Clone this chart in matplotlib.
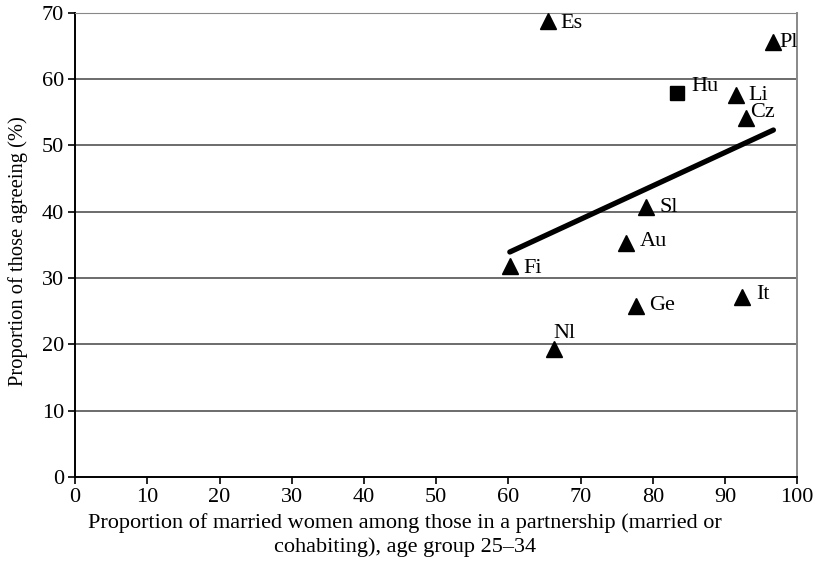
import matplotlib

matplotlib.use("Agg")
import matplotlib.pyplot as plt
import numpy as np

plt.rcParams["font.family"] = ["Liberation Serif", "DejaVu Serif"]

countries = ["Es", "Pl", "Hu", "Li", "Cz", "Sl", "Au", "Fi", "Ge", "It", "Nl"]
married_share = [65.5, 96.7, 83.4, 91.5, 92.9, 79.0, 76.3, 60.2, 77.7, 92.4, 66.3]
agreeing = [68.8, 65.6, 57.9, 57.6, 54.1, 40.7, 35.3, 31.8, 25.8, 27.1, 19.3]
markers = ["^", "^", "s", "^", "^", "^", "^", "^", "^", "^", "^"]

# label offsets in points (dx, dy) per country
label_offsets = {
    "Es": (9, -2), "Pl": (4, 0), "Hu": (10, 5), "Li": (9, 0), "Cz": (3, 4),
    "Sl": (10, 0), "Au": (10, 1), "Fi": (10, -2), "Ge": (9, 0), "It": (10, 2),
    "Nl": (0, 4),
}

fig = plt.figure(figsize=(8.16, 5.63), dpi=100)
ax = fig.add_axes([0.092, 0.153, 0.885, 0.824])

for y in range(10, 71, 10):
    ax.axhline(y, color="#444444", linewidth=1.1, zorder=1)

x = np.array(married_share)
y = np.array(agreeing)
slope, intercept = np.polyfit(x, y, 1)
xs = np.array([x.min(), x.max()])
ax.plot(xs, slope * xs + intercept, color="black", linewidth=3.8,
        solid_capstyle="round", zorder=3)

for name, mx, my, mk in zip(countries, married_share, agreeing, markers):
    size = 10.5 if mk == "s" else 11
    ax.plot(mx, my, marker=mk, color="black", markersize=size,
            linestyle="none", zorder=4)
    dx, dy = label_offsets[name]
    ax.annotate(name, (mx, my), xytext=(dx, dy), textcoords="offset points",
                ha="left", va="center" if name != "Nl" else "bottom",
                fontsize=16, zorder=5)

ax.set_xlim(0, 100)
ax.set_ylim(0, 70)
ax.set_xticks(range(0, 101, 10))
ax.set_yticks(range(0, 71, 10))
ax.tick_params(axis="both", labelsize=16, direction="out", length=5,
               width=1.2, color="black")
ax.tick_params(axis="x", pad=3)
ax.tick_params(axis="y", pad=3)

ax.spines["left"].set_color("black")
ax.spines["left"].set_linewidth(1.4)
ax.spines["bottom"].set_color("black")
ax.spines["bottom"].set_linewidth(1.4)
ax.spines["top"].set_color("#888888")
ax.spines["right"].set_color("#888888")
ax.spines["right"].set_linewidth(1.4)

ax.set_xlabel("Proportion of married women among those in a partnership (married or\ncohabiting), age group 25\u201334",
              fontsize=16, linespacing=1.3)
ax.xaxis.set_label_coords(0.457, -0.078)
ax.set_ylabel("Proportion of those agreeing (%)", fontsize=14.8)
ax.yaxis.set_label_coords(-0.065, 0.487)

fig.savefig("out.png", dpi=100)
